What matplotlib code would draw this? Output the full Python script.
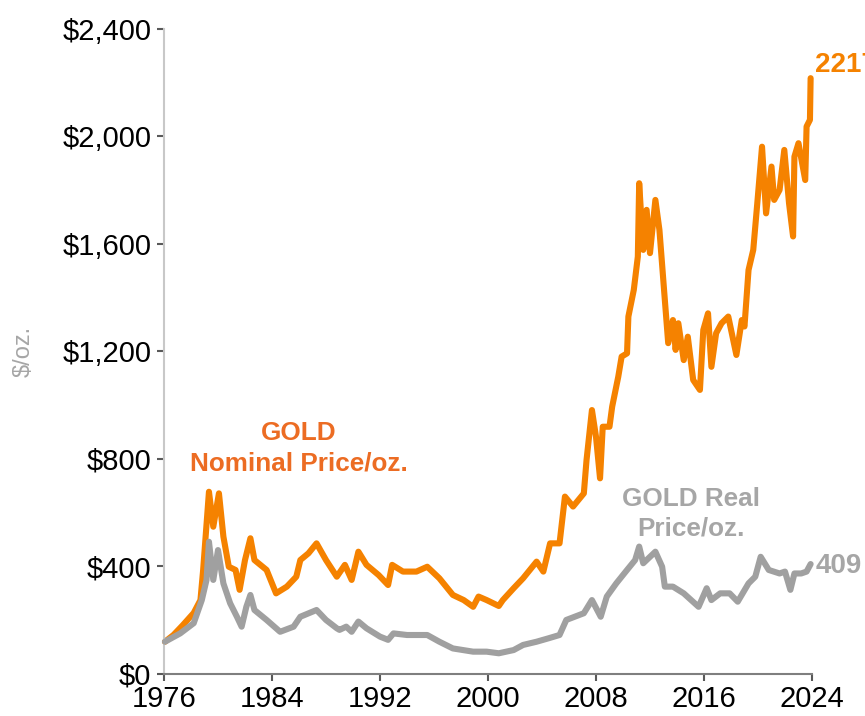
import matplotlib.pyplot as plt
from matplotlib.ticker import FuncFormatter

plt.rcParams['font.family'] = ['Liberation Sans', 'DejaVu Sans']

# precos (ano decimal, US$/oz)
nominal_year = [1976.07, 1976.7, 1977.4, 1978.2, 1978.7, 1978.9, 1979.33, 1979.65, 1980.07,
                1980.4, 1980.8, 1981.3, 1981.6, 1982.0, 1982.4, 1982.7, 1983.6, 1984.3,
                1985.1, 1985.8, 1986.1, 1986.7, 1987.3, 1988.0, 1988.8, 1989.4, 1989.9,
                1990.4, 1991.0, 1991.9, 1992.6, 1992.9, 1993.7, 1994.7, 1995.5, 1996.4,
                1997.4, 1998.2, 1998.9, 1999.3, 1999.9, 2000.8, 2001.1, 2001.9, 2002.6,
                2003.6, 2004.1, 2004.6, 2005.3, 2005.7, 2006.3, 2007.1, 2007.3, 2007.7,
                2008.0, 2008.3, 2008.5, 2009.0, 2009.2, 2009.65, 2009.9, 2010.3, 2010.4,
                2010.8, 2011.1, 2011.2, 2011.5, 2011.75, 2012.0, 2012.4, 2012.7, 2013.1,
                2013.35, 2013.7, 2013.9, 2014.1, 2014.5, 2014.8, 2015.2, 2015.7, 2015.95,
                2016.3, 2016.55, 2016.9, 2017.3, 2017.8, 2018.4, 2018.8, 2019.0, 2019.3,
                2019.65, 2019.95, 2020.3, 2020.6, 2021.0, 2021.2, 2021.6, 2021.95, 2022.3,
                2022.6, 2022.7, 2023.0, 2023.5, 2023.6, 2023.85, 2023.9]
nominal_price = [120, 145, 182, 227, 275, 387, 678, 548, 672,
                 511, 399, 387, 313, 424, 505, 424, 387, 300,
                 325, 362, 424, 449, 486, 424, 362, 406, 350,
                 455, 406, 368, 331, 406, 381, 381, 399, 356,
                 294, 275, 250, 288, 275, 253, 275, 319, 356,
                 418, 381, 486, 486, 660, 623, 672, 796, 982,
                 883, 728, 920, 920, 995, 1106, 1181, 1193, 1330,
                 1429, 1553, 1826, 1578, 1727, 1566, 1764, 1652, 1392,
                 1231, 1317, 1206, 1305, 1168, 1255, 1094, 1057, 1280,
                 1342, 1143, 1268, 1305, 1330, 1187, 1317, 1293, 1503,
                 1578, 1752, 1962, 1714, 1888, 1764, 1801, 1950, 1752,
                 1628, 1925, 1975, 1838, 2037, 2062, 2217]

real_year = [1976.07, 1977.2, 1978.2, 1978.8, 1979.15, 1979.33, 1979.65, 1980.0, 1980.4,
             1980.9, 1981.4, 1981.75, 1982.1, 1982.4, 1982.7, 1983.6, 1984.6, 1985.6,
             1986.1, 1987.3, 1988.0, 1988.8, 1989.0, 1989.5, 1989.9, 1990.4, 1991.0,
             1992.0, 1992.6, 1993.0, 1994.0, 1995.5, 1996.4, 1997.4, 1998.9, 1999.9,
             2000.8, 2001.9, 2002.6, 2003.6, 2004.5, 2005.3, 2005.8, 2007.1, 2007.7,
             2008.35, 2008.8, 2009.5, 2010.3, 2010.9, 2011.2, 2011.5, 2012.4, 2012.9,
             2013.1, 2013.7, 2014.5, 2015.6, 2016.2, 2016.55, 2017.2, 2017.9, 2018.5,
             2019.3, 2019.8, 2020.2, 2020.8, 2021.6, 2022.0, 2022.4, 2022.7, 2023.2,
             2023.6, 2023.9]
real_price = [120, 151, 189, 275, 350, 492, 350, 461, 337,
              263, 213, 176, 250, 294, 238, 201, 157, 176,
              213, 238, 201, 170, 164, 176, 157, 195, 170,
              139, 127, 151, 145, 145, 120, 95, 83, 83,
              77, 89, 108, 120, 133, 145, 201, 226, 275,
              213, 288, 337, 387, 424, 474, 412, 455, 399,
              325, 325, 300, 250, 319, 275, 300, 300, 269,
              337, 362, 436, 387, 374, 381, 313, 374, 374,
              381, 409]

x_ticks = [1976, 1984, 1992, 2000, 2008, 2016, 2024]
y_ticks = [0, 400, 800, 1200, 1600, 2000, 2400]

orange = "#F58200"
orange_txt = "#EC6C23"
gray = "#A0A0A0"
gray_txt = "#A6A6A6"

fig = plt.figure(figsize=(8.65, 7.16), dpi=100)
ax = fig.add_axes([0.1896, 0.0587, 0.7491, 0.9008])

ax.plot(nominal_year, nominal_price, color=orange, lw=4.4, solid_joinstyle="round",
        solid_capstyle="round", clip_on=False, zorder=2)
ax.plot(real_year, real_price, color=gray, lw=4.4, solid_joinstyle="round",
        solid_capstyle="round", clip_on=False, zorder=3)

ax.set_xlim(1976, 2024)
ax.set_ylim(0, 2400)
ax.set_xticks(x_ticks)
ax.set_yticks(y_ticks)
ax.yaxis.set_major_formatter(FuncFormatter(lambda v, p: "${:,.0f}".format(v)))
ax.tick_params(axis="both", labelsize=21, colors="#595959", labelcolor="black")
ax.tick_params(axis="y", length=5, width=1.5, pad=4)
ax.tick_params(axis="x", length=5, width=1.5, pad=3)

for side in ["top", "right"]:
    ax.spines[side].set_visible(False)
ax.spines["left"].set_color("#C8C8C8")
ax.spines["left"].set_linewidth(1.5)
ax.spines["bottom"].set_color("#7F7F7F")
ax.spines["bottom"].set_linewidth(1.5)

ax.set_ylabel("$/oz.", fontsize=17, color=gray_txt, labelpad=20)

ax.text(1986.0, 840, "GOLD\nNominal Price/oz.", color=orange_txt, fontsize=18.8,
        fontweight="bold", ha="center", va="center", linespacing=1.3)
ax.text(2015.05, 597, "GOLD Real\nPrice/oz.", color=gray_txt, fontsize=18.8,
        fontweight="bold", ha="center", va="center", linespacing=1.3)
ax.text(2024.2, 2265, "2217", color=orange, fontsize=20,
        fontweight="bold", ha="left", va="center", clip_on=False)
ax.text(2024.3, 400, "409", color=gray_txt, fontsize=20,
        fontweight="bold", ha="left", va="center", clip_on=False)

fig.savefig("out.png", dpi=100)
